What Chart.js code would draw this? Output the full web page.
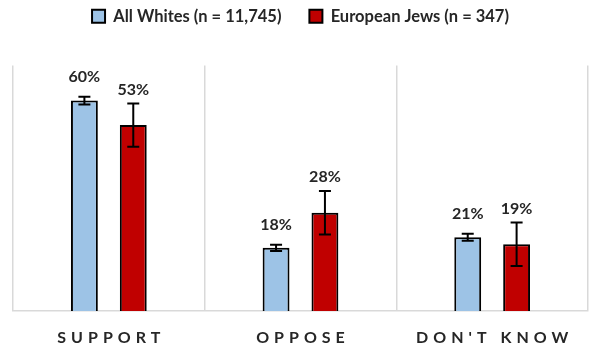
<!DOCTYPE html>
<html>
<head>
<meta charset="utf-8">
<script src="https://cdn.jsdelivr.net/npm/chart.js@4.4.0/dist/chart.umd.min.js"></script>
<style>
  html, body { margin: 0; padding: 0; background: #fff; }
  #wrap { width: 589px; height: 352px; position: relative; }
</style>
</head>
<body>
<div id="wrap"><canvas id="chart"></canvas></div>
<script>
// Chart data
const categories = ['SUPPORT', 'OPPOSE', "DON'T KNOW"];
const seriesNames = ['All Whites (n = 11,745)', 'European Jews (n = 347)'];
const allWhites = [60, 18, 21];
const europeanJews = [53, 28, 19];
const allWhitesErr = [1.1, 0.9, 1.0];
const europeanJewsErr = [6.2, 6.2, 6.2];

const errors = [allWhitesErr, europeanJewsErr];
const labelGap = [12, 6];
const textColor = '#262626';
const fontFamily = 'Lato, "Open Sans", sans-serif';

// make room under the legend
const legendMargin = {
    id: 'legendMargin',
    beforeInit(chart) {
        const fit = chart.legend.fit;
        chart.legend.fit = function() {
            fit.bind(chart.legend)();
            this.height += 31;
        };
    }
};

// error bars, value labels and spaced category labels
const extras = {
    id: 'extras',
    afterDatasetsDraw(chart) {
        const ctx = chart.ctx;
        const y = chart.scales.y;
        ctx.save();
        chart.data.datasets.forEach((ds, i) => {
            const meta = chart.getDatasetMeta(i);
            meta.data.forEach((bar, j) => {
                const v = ds.data[j];
                const e = errors[i][j];
                const top = y.getPixelForValue(v + e);
                const bot = y.getPixelForValue(v - e);
                ctx.strokeStyle = '#000';
                ctx.lineWidth = 2;
                ctx.beginPath();
                ctx.moveTo(bar.x, top);
                ctx.lineTo(bar.x, bot);
                ctx.moveTo(bar.x - 6, top);
                ctx.lineTo(bar.x + 6, top);
                ctx.moveTo(bar.x - 6, bot);
                ctx.lineTo(bar.x + 6, bot);
                ctx.stroke();

                ctx.fillStyle = textColor;
                ctx.font = 'bold 16px ' + fontFamily;
                ctx.textAlign = 'center';
                ctx.textBaseline = 'bottom';
                ctx.fillText(v + '%', bar.x, top - labelGap[i]);
            });
        });

        const x = chart.scales.x;
        ctx.fillStyle = textColor;
        ctx.font = 'bold 16px ' + fontFamily;
        ctx.letterSpacing = '5px';
        ctx.textAlign = 'center';
        ctx.textBaseline = 'middle';
        categories.forEach((c, j) => {
            ctx.fillText(c, x.getPixelForValue(j) + 2.5, 338);
        });
        ctx.restore();
    }
};

new Chart(document.getElementById('chart'), {
    type: 'bar',
    data: {
        labels: categories,
        datasets: [{
            label: seriesNames[0],
            data: allWhites,
            backgroundColor: '#9DC3E6',
            borderColor: '#000',
            borderWidth: 2,
            borderSkipped: 'bottom'
        }, {
            label: seriesNames[1],
            data: europeanJews,
            backgroundColor: '#C00000',
            borderColor: '#000',
            borderWidth: 2,
            borderSkipped: 'bottom'
        }]
    },
    options: {
        responsive: true,
        maintainAspectRatio: false,
        animation: false,
        layout: {
            padding: { left: 13, right: 1, top: -20, bottom: 41 }
        },
        categoryPercentage: 0.51,
        barPercentage: 0.55,
        plugins: {
            legend: {
                position: 'top',
                labels: {
                    boxWidth: 13,
                    boxHeight: 13,
                    padding: 28,
                    color: textColor,
                    font: { family: fontFamily, size: 16.5, weight: 'bold' }
                }
            },
            tooltip: { enabled: false }
        },
        scales: {
            x: {
                grid: {
                    offset: true,
                    color: '#d9d9d9',
                    lineWidth: 1.5,
                    drawTicks: false
                },
                border: { display: true, color: '#d9d9d9', width: 1.5 },
                ticks: { display: false }
            },
            y: {
                display: false,
                min: 0,
                max: 70
            }
        }
    },
    plugins: [legendMargin, extras]
});
</script>
</body>
</html>
